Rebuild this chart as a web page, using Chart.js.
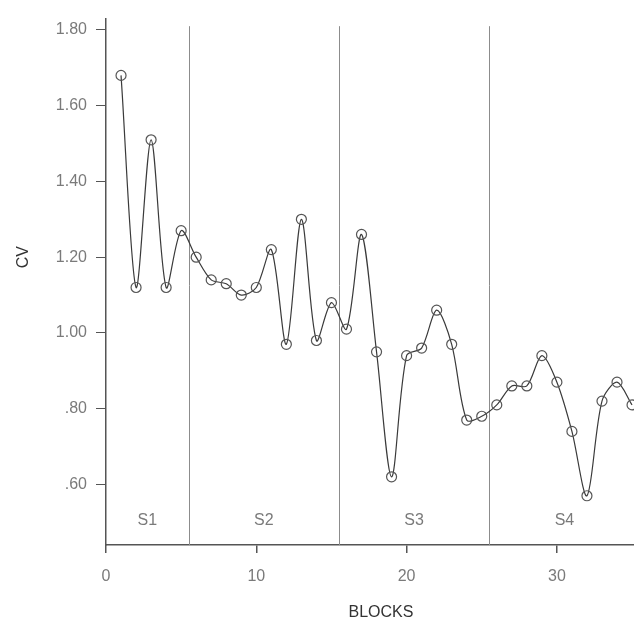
<!DOCTYPE html>
<html>
<head>
<meta charset="utf-8">
<script src="https://cdn.jsdelivr.net/npm/chart.js@4/dist/chart.umd.min.js"></script>
<style>
  html, body { margin: 0; padding: 0; background: #fff; }
  canvas { display: block; }
</style>
</head>
<body>
<canvas id="cvChart" width="634" height="626"></canvas>
<script>
// Coefficient of variation per block
const blocks = [1, 2, 3, 4, 5, 6, 7, 8, 9, 10, 11, 12, 13, 14, 15, 16, 17, 18, 19, 20,
                21, 22, 23, 24, 25, 26, 27, 28, 29, 30, 31, 32, 33, 34, 35];
const cv = [1.68, 1.12, 1.51, 1.12, 1.27, 1.20, 1.14, 1.13, 1.10, 1.12,
            1.22, 0.97, 1.30, 0.98, 1.08, 1.01, 1.26, 0.95, 0.62, 0.94,
            0.96, 1.06, 0.97, 0.77, 0.78, 0.81, 0.86, 0.86, 0.94, 0.87,
            0.74, 0.57, 0.82, 0.87, 0.81];

// Axis ticks
const yTickValues = [0.6, 0.8, 1.0, 1.2, 1.4, 1.6, 1.8];
const xTickValues = [0, 10, 20, 30];

// Sessions: boundaries between them and where their names sit
const sessionBreaks = [5.5, 15.5, 25.5];
const sessionNames = ['S1', 'S2', 'S3', 'S4'];
const sessionCentres = [2.75, 10.5, 20.5, 30.5];

const TICK_COLOR = '#7a7a7a';
const AXIS_COLOR = '#555555';
const FONT = '"Liberation Sans", Arial, sans-serif';

const sessionPlugin = {
  id: 'sessions',
  beforeDatasetsDraw(chart) {
    const { ctx, scales: { x, y } } = chart;
    ctx.save();
    ctx.strokeStyle = '#8c8c8c';
    ctx.lineWidth = 1;
    const top = y.getPixelForValue(1.81);
    sessionBreaks.forEach(b => {
      const px = Math.round(x.getPixelForValue(b)) + 0.5;
      ctx.beginPath();
      ctx.moveTo(px, top);
      ctx.lineTo(px, y.bottom);
      ctx.stroke();
    });
    ctx.fillStyle = TICK_COLOR;
    ctx.font = '16px ' + FONT;
    ctx.textAlign = 'center';
    ctx.textBaseline = 'middle';
    const ly = y.getPixelForValue(0.505);
    sessionNames.forEach((name, i) => {
      ctx.fillText(name, x.getPixelForValue(sessionCentres[i]), ly);
    });
    ctx.restore();
  },
  afterDraw(chart) {
    const { ctx, chartArea, scales: { y } } = chart;
    ctx.save();
    ctx.fillStyle = '#333333';
    ctx.font = '16px ' + FONT;
    ctx.textAlign = 'center';
    ctx.textBaseline = 'middle';
    ctx.fillText('BLOCKS', (chartArea.left + chartArea.right) / 2 + 11, 613);
    ctx.translate(24, y.getPixelForValue(1.2));
    ctx.rotate(-Math.PI / 2);
    ctx.fillText('CV', 0, 0);
    ctx.restore();
  }
};

new Chart(document.getElementById('cvChart'), {
  type: 'line',
  data: {
    datasets: [{
      data: blocks.map((b, i) => ({ x: b, y: cv[i] })),
      borderColor: '#3a3a3a',
      borderWidth: 1.2,
      tension: 0.3,
      pointRadius: 5,
      pointBorderWidth: 1.2,
      pointBorderColor: '#555555',
      pointBackgroundColor: 'rgba(255,255,255,0)',
      fill: false,
      clip: false
    }]
  },
  options: {
    responsive: false,
    devicePixelRatio: 1,
    animation: false,
    events: [],
    layout: { autoPadding: false, padding: { top: 10, right: 0, left: 0, bottom: 0 } },
    plugins: {
      legend: { display: false },
      tooltip: { enabled: false }
    },
    scales: {
      x: {
        type: 'linear',
        min: 0,
        max: 35.13,
        afterFit(scale) { scale.height = 81; },
        afterBuildTicks(scale) { scale.ticks = xTickValues.map(v => ({ value: v })); },
        border: { display: true, color: AXIS_COLOR, width: 1.5 },
        grid: { display: true, drawOnChartArea: false, drawTicks: true, tickLength: 8, color: AXIS_COLOR, lineWidth: 1.5 },
        ticks: {
          color: TICK_COLOR,
          font: { family: FONT, size: 16 },
          padding: 14,
          maxRotation: 0,
          callback: v => String(v)
        }
      },
      y: {
        type: 'linear',
        min: 0.44,
        max: 1.83,
        afterFit(scale) { scale.width = 106; },
        afterBuildTicks(scale) { scale.ticks = yTickValues.map(v => ({ value: v })); },
        border: { display: true, color: AXIS_COLOR, width: 1.5 },
        grid: { display: true, drawOnChartArea: false, drawTicks: true, tickLength: 10, color: AXIS_COLOR, lineWidth: 1 },
        ticks: {
          color: TICK_COLOR,
          font: { family: FONT, size: 16 },
          padding: 9,
          callback: v => (v < 1 ? v.toFixed(2).replace(/^0/, '') : v.toFixed(2))
        }
      }
    }
  },
  plugins: [sessionPlugin]
});
</script>
</body>
</html>
